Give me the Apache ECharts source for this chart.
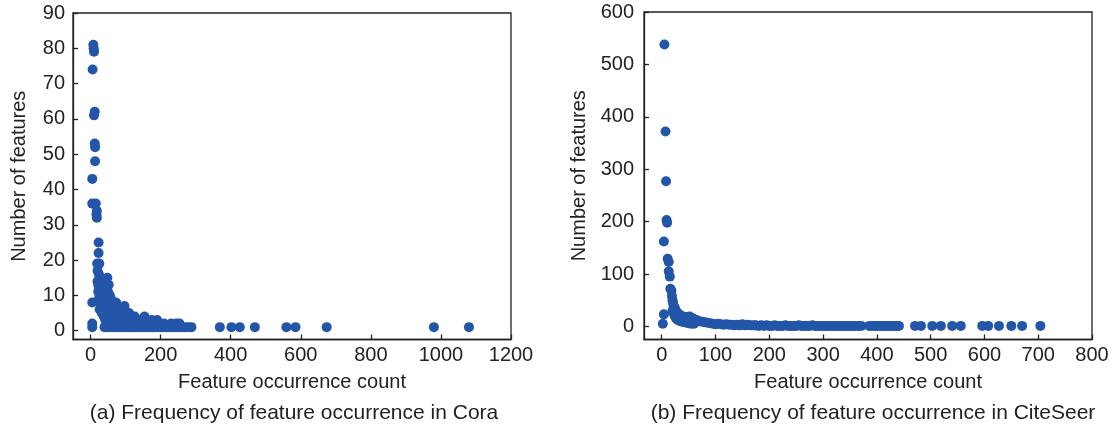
<!DOCTYPE html>
<html>
<head>
<meta charset="utf-8">
<script src="https://cdn.jsdelivr.net/npm/echarts@6/dist/echarts.min.js"></script>
<style>
  html, body { margin: 0; padding: 0; background: #fff; }
  #chart { width: 1116px; height: 430px; }
</style>
</head>
<body>
<div id="chart"></div>
<script>
// Cora: feature occurrence count (x) vs number of features (y)
const coraCount = [
  8, 9, 10, 6, 12, 10, 12, 13, 13, 5, 5, 15, 18, 17, 18, 23, 23, 19, 25, 20, 24, 27, 48,
  20, 28, 35, 22, 30, 40, 52, 25, 33, 45, 22, 30, 38, 50, 27, 35, 44, 55,
  24, 32, 40, 50, 58, 5, 28, 36, 46, 56, 66, 73,
  30, 42, 52, 62, 72, 97,
  26, 36, 48, 60, 70, 80, 90,
  32, 44, 54, 64, 76, 86, 100, 110,
  38, 50, 62, 74, 88, 100, 114, 126, 154,
  42, 56, 70, 84, 98, 112, 126, 140, 160, 175, 190,
  5, 46, 60, 75, 90, 105, 120, 135, 150, 165, 180, 191, 210, 230, 245, 254,
  5, 40, 48, 56, 64, 72, 80, 88, 96, 104, 112, 120, 128, 136, 144, 152, 160, 168, 176,
  184, 192, 200, 208, 216, 224, 232, 240, 250, 260, 270, 280, 288,
  369, 402, 426, 469, 559, 585, 674, 980, 1080
];
const coraFeatures = [
  81, 80, 79, 74, 62, 61, 53, 52, 48, 43, 36, 36, 34, 33, 32, 25, 22, 19, 19, 17, 16, 15, 15,
  14, 14, 14, 13, 13, 13, 13, 12, 12, 12, 11, 11, 11, 11, 10, 10, 10, 10,
  9, 9, 9, 9, 9, 8, 8, 8, 8, 8, 8, 8,
  7, 7, 7, 7, 7, 7,
  6, 6, 6, 6, 6, 6, 6,
  5, 5, 5, 5, 5, 5, 5, 5,
  4, 4, 4, 4, 4, 4, 4, 4, 4,
  3, 3, 3, 3, 3, 3, 3, 3, 3, 3, 3,
  2, 2, 2, 2, 2, 2, 2, 2, 2, 2, 2, 2, 2, 2, 2, 2,
  1, 1, 1, 1, 1, 1, 1, 1, 1, 1, 1, 1, 1, 1, 1, 1, 1, 1, 1,
  1, 1, 1, 1, 1, 1, 1, 1, 1, 1, 1, 1, 1,
  1, 1, 1, 1, 1, 1, 1, 1, 1
];

// CiteSeer
const citeCount = [
  5, 7, 8, 9, 10, 4, 11, 13, 13, 15, 16, 18, 4, 2,
  19, 20, 21, 22, 24, 25, 27, 29, 31, 33, 36, 40, 44, 48, 52, 56, 60, 65, 70, 75, 80, 85, 90,
  20, 22, 24, 26, 28, 30, 34, 38, 42, 46, 50, 55, 60,
  95, 100, 105, 110, 115, 120, 125, 130, 135, 140, 145, 150, 155, 160, 165, 170, 175, 180,
  185, 190, 195, 200, 205, 210, 215, 220, 225, 230, 235, 240, 245, 250, 255, 260, 265, 270,
  275, 280, 285, 290, 295, 300, 305, 310, 315, 320, 325, 330, 335, 340, 345, 350, 355, 360,
  366, 371, 386, 391, 396, 401, 406, 411, 416, 421, 426, 431, 436, 441,
  471, 482, 503, 519, 540, 556, 596, 607, 627, 650, 670, 704
];
const citeFeatures = [
  538, 372, 277, 203, 198, 162, 129, 123, 105, 95, 72, 68, 23, 5,
  58, 50, 45, 40, 36, 32, 29, 26, 24, 22, 20, 19, 18, 17, 19, 16, 14, 12, 10, 9, 8, 7, 6,
  30, 25, 20, 16, 14, 12, 10, 9, 8, 7, 6, 5, 5,
  5, 4, 5, 4, 3, 4, 3, 3, 2, 3, 2, 4, 2, 3, 2, 2, 2, 1,
  2, 1, 2, 1, 1, 2, 1, 1, 1, 2, 1, 1, 1, 1, 2, 1, 1, 1,
  1, 2, 1, 1, 1, 1, 1, 1, 1, 1, 1, 1, 1, 1, 1, 1, 1, 1,
  1, 1, 1, 1, 1, 1, 1, 1, 1, 1, 1, 1, 1, 1,
  1, 1, 1, 1, 1, 1, 1, 1, 1, 1, 1, 1
];

const coraXTicks = [0, 200, 400, 600, 800, 1000, 1200];
const coraYTicks = [0, 10, 20, 30, 40, 50, 60, 70, 80, 90];
const citeXTicks = [0, 100, 200, 300, 400, 500, 600, 700, 800];
const citeYTicks = [0, 100, 200, 300, 400, 500, 600];

const pairs = (xs, ys) => xs.map((x, i) => [x, ys[i]]);

const font = 'Liberation Sans, Arial, sans-serif';
const ink = '#222';
const dotColor = '#2356a8';

function axis(ticks, margin, extra) {
  return Object.assign({
    type: 'value',
    axisLine: { show: true, onZero: false, lineStyle: { color: ink, width: 1.3 } },
    axisTick: { show: true, inside: true, length: 5, customValues: ticks, lineStyle: { color: ink, width: 1.3 } },
    axisLabel: {
      customValues: ticks, color: ink, fontSize: 20, fontFamily: font, margin: margin,
      formatter: v => String(v)
    },
    splitLine: { show: false },
    nameLocation: 'middle',
    nameTextStyle: { color: ink, fontSize: 20, fontFamily: font }
  }, extra);
}

const chart = echarts.init(document.getElementById('chart'));

chart.setOption({
  animation: false,
  title: [
    {
      text: '(a) Frequency of feature occurrence in Cora',
      left: 289, top: 398, textAlign: 'center',
      textStyle: { color: ink, fontSize: 21, fontWeight: 'normal', fontFamily: font }
    },
    {
      text: '(b) Frequency of feature occurrence in CiteSeer',
      left: 868, top: 398, textAlign: 'center',
      textStyle: { color: ink, fontSize: 21, fontWeight: 'normal', fontFamily: font }
    }
  ],
  grid: [
    { left: 73, right: 605, top: 13, bottom: 90.5, show: true, borderColor: ink, borderWidth: 1.3 },
    { left: 644, right: 24, top: 12, bottom: 90.5, show: true, borderColor: ink, borderWidth: 1.3 }
  ],
  xAxis: [
    axis(coraXTicks, 6, { gridIndex: 0, min: -50, max: 1200, name: 'Feature occurrence count', nameGap: 33 }),
    axis(citeXTicks, 6, { gridIndex: 1, min: -33, max: 800, name: 'Feature occurrence count', nameGap: 33 })
  ],
  yAxis: [
    axis(coraYTicks, 8, { gridIndex: 0, min: -2.5, max: 90, name: 'Number of features', nameGap: 44 }),
    axis(citeYTicks, 10, { gridIndex: 1, min: -25, max: 600, name: 'Number of features', nameGap: 55 })
  ],
  series: [
    {
      type: 'scatter', xAxisIndex: 0, yAxisIndex: 0,
      symbolSize: 10, itemStyle: { color: dotColor, opacity: 1 },
      data: pairs(coraCount, coraFeatures)
    },
    {
      type: 'scatter', xAxisIndex: 1, yAxisIndex: 1,
      symbolSize: 10, itemStyle: { color: dotColor, opacity: 1 },
      data: pairs(citeCount, citeFeatures)
    }
  ]
});
</script>
</body>
</html>
